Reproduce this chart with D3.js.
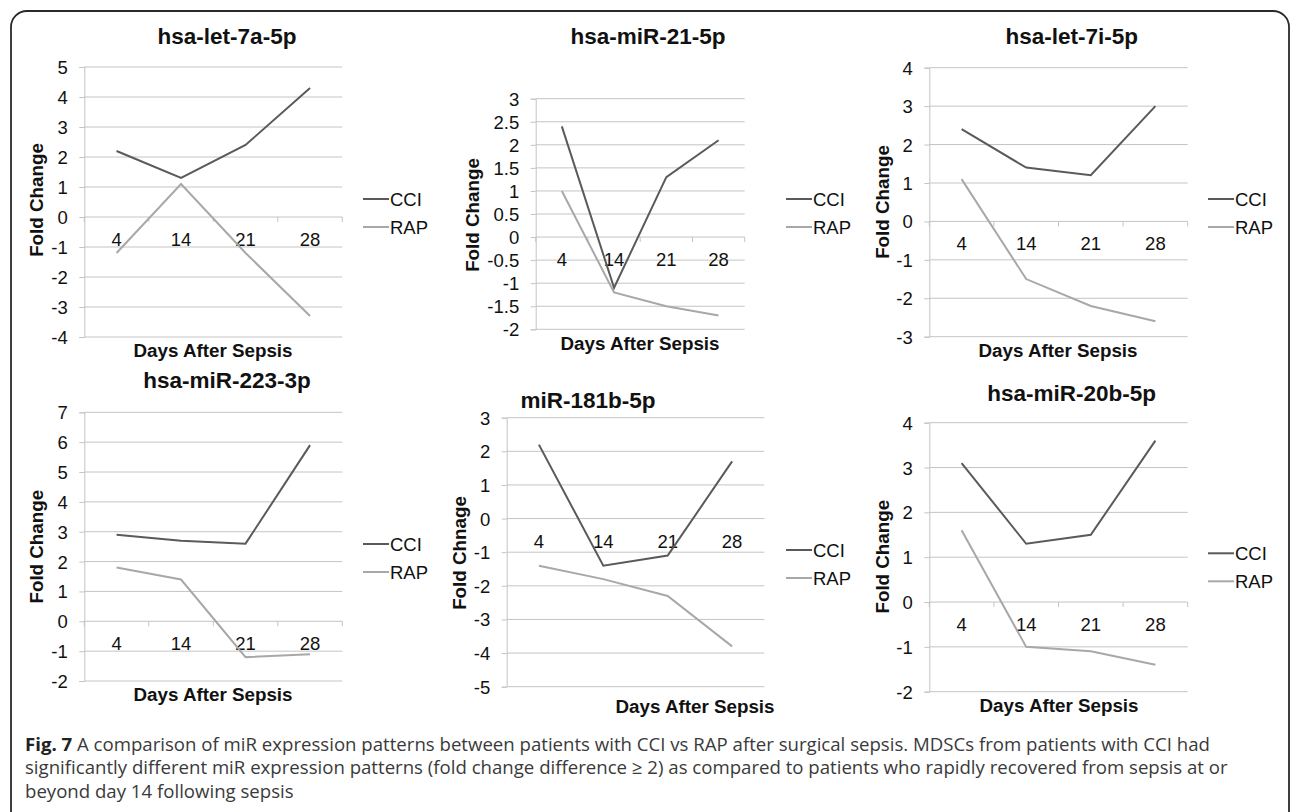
<!DOCTYPE html>
<html>
<head>
<meta charset="utf-8">
<script src="https://cdn.jsdelivr.net/npm/d3@7/dist/d3.min.js"></script>
<style>
  html, body { margin: 0; padding: 0; background: #fff; }
  svg { display: block; }
</style>
</head>
<body>
<svg id="chart" width="1292" height="812"></svg>
<script>
// ---------------- DATA ----------------
const days = ["4", "14", "21", "28"];
const seriesNames = ["CCI", "RAP"];

const titles = ["hsa-let-7a-5p", "hsa-miR-21-5p", "hsa-let-7i-5p",
                "hsa-miR-223-3p", "miR-181b-5p", "hsa-miR-20b-5p"];
const yTitles = ["Fold Change", "Fold Change", "Fold Change",
                 "Fold Change", "Fold Chnage", "Fold Change"];
const xTitle = "Days After Sepsis";

const let7a_CCI = [2.2, 1.3, 2.4, 4.3];
const let7a_RAP = [-1.2, 1.1, -1.2, -3.3];
const miR21_CCI = [2.4, -1.1, 1.3, 2.1];
const miR21_RAP = [1.0, -1.2, -1.5, -1.7];
const let7i_CCI = [2.4, 1.4, 1.2, 3.0];
const let7i_RAP = [1.1, -1.5, -2.2, -2.6];
const miR223_CCI = [2.9, 2.7, 2.6, 5.9];
const miR223_RAP = [1.8, 1.4, -1.2, -1.1];
const miR181b_CCI = [2.2, -1.4, -1.1, 1.7];
const miR181b_RAP = [-1.4, -1.8, -2.3, -3.8];
const miR20b_CCI = [3.1, 1.3, 1.5, 3.6];
const miR20b_RAP = [1.6, -1.0, -1.1, -1.4];

const let7aTicks = [5, 4, 3, 2, 1, 0, -1, -2, -3, -4];
const miR21Ticks = [3, 2.5, 2, 1.5, 1, 0.5, 0, -0.5, -1, -1.5, -2];
const let7iTicks = [4, 3, 2, 1, 0, -1, -2, -3];
const miR223Ticks = [7, 6, 5, 4, 3, 2, 1, 0, -1, -2];
const miR181bTicks = [3, 2, 1, 0, -1, -2, -3, -4, -5];
const miR20bTicks = [4, 3, 2, 1, 0, -1, -2];

const captionBold = "Fig. 7";
const captionLines = [
  " A comparison of miR expression patterns between patients with CCI vs RAP after surgical sepsis. MDSCs from patients with CCI had",
  "significantly different miR expression patterns (fold change difference \u2265 2) as compared to patients who rapidly recovered from sepsis at or",
  "beyond day 14 following sepsis"
];

// ---------------- LAYOUT ----------------
const panels = [
  { title: titles[0], yTitle: yTitles[0], cci: let7a_CCI, rap: let7a_RAP, ticks: let7aTicks,
    L: 84.3, R: 342.3, T: 67, B: 337, tx: 227, ty: 36, ytx: 36, yty: 200, xtx: 213, xty: 350,
    lx: 363, ly: 199, zeroTicks: true },
  { title: titles[1], yTitle: yTitles[1], cci: miR21_CCI, rap: miR21_RAP, ticks: miR21Ticks,
    L: 535.7, R: 744.7, T: 98.7, B: 329.3, tx: 648, ty: 36, ytx: 472.7, yty: 215, xtx: 640, xty: 343,
    lx: 786, ly: 199, zeroTicks: true },
  { title: titles[2], yTitle: yTitles[2], cci: let7i_CCI, rap: let7i_RAP, ticks: let7iTicks,
    L: 929.3, R: 1187.7, T: 67.7, B: 336.7, tx: 1071.7, ty: 36, ytx: 882.7, yty: 202, xtx: 1058, xty: 350,
    lx: 1208, ly: 199, zeroTicks: true },
  { title: titles[3], yTitle: yTitles[3], cci: miR223_CCI, rap: miR223_RAP, ticks: miR223Ticks,
    L: 84.3, R: 342.3, T: 412.3, B: 681, tx: 227, ty: 380, ytx: 36, yty: 546.7, xtx: 213, xty: 694,
    lx: 363, ly: 544, zeroTicks: true },
  { title: titles[4], yTitle: yTitles[4], cci: miR181b_CCI, rap: miR181b_RAP, ticks: miR181bTicks,
    L: 506.7, R: 764.3, T: 417.7, B: 686.7, tx: 588, ty: 400.7, ytx: 459.3, yty: 553, xtx: 695, xty: 706.7,
    lx: 786, ly: 550, zeroTicks: false },
  { title: titles[5], yTitle: yTitles[5], cci: miR20b_CCI, rap: miR20b_RAP, ticks: miR20bTicks,
    L: 929.3, R: 1187.7, T: 422.7, B: 691.7, tx: 1071.7, ty: 393.3, ytx: 882.7, yty: 556.7, xtx: 1059, xty: 705,
    lx: 1208, ly: 553.3, zeroTicks: true }
];

const COLORS = { CCI: "#5a5a5a", RAP: "#a8a8a8" };
const GRID = "#c4c4c4";
const FONT = "'Liberation Sans', Arial, sans-serif";
const TXT = "#111";
const TICK_FS = 18.5, TITLE_FS = 22.5, AXT_FS = 18.8, LEG_FS = 18.5;

const svg = d3.select("#chart");

// frame
svg.append("rect")
  .attr("x", 11).attr("y", 11)
  .attr("width", 1278).attr("height", 830)
  .attr("rx", 16).attr("ry", 16)
  .attr("fill", "none").attr("stroke", "#2a2a2a").attr("stroke-width", 1.8);

panels.forEach(p => {
  const g = svg.append("g");
  const minV = d3.min(p.ticks), maxV = d3.max(p.ticks);
  const y = d3.scaleLinear().domain([minV, maxV]).range([p.B, p.T]);
  const x = d3.scaleBand().domain(days).range([p.L, p.R]).paddingInner(0).paddingOuter(0);
  const cx = d => x(d) + x.bandwidth() / 2;

  // gridlines
  g.append("g").selectAll("line").data(p.ticks).join("line")
    .attr("x1", p.L).attr("x2", p.R)
    .attr("y1", d => y(d)).attr("y2", d => y(d))
    .attr("stroke", GRID).attr("stroke-width", 1);

  // y axis
  const ax = g.append("g")
    .attr("transform", `translate(${p.L},0)`)
    .call(d3.axisLeft(y).tickValues(p.ticks).tickSize(5).tickPadding(11.5)
      .tickFormat(d => String(d)));
  ax.select(".domain").attr("stroke", GRID);
  ax.selectAll(".tick line").attr("stroke", GRID);
  ax.selectAll(".tick text")
    .attr("font-family", FONT).attr("font-size", TICK_FS).attr("fill", TXT)
    .attr("dy", null).attr("dominant-baseline", "central");

  // category axis at zero
  const y0 = y(0);
  if (p.zeroTicks) {
    const bounds = days.map(d => x(d)).concat([p.R]);
    g.append("g").selectAll("line").data(bounds).join("line")
      .attr("x1", d => d).attr("x2", d => d)
      .attr("y1", y0).attr("y2", y0 + 5)
      .attr("stroke", GRID).attr("stroke-width", 1);
  }
  g.append("g").selectAll("text").data(days).join("text")
    .attr("x", d => cx(d)).attr("y", y0 + 22.5)
    .attr("text-anchor", "middle").attr("dominant-baseline", "central")
    .attr("font-family", FONT).attr("font-size", TICK_FS).attr("fill", TXT)
    .text(d => d);

  // lines
  const line = d3.line().x((v, i) => cx(days[i])).y(v => y(v));
  [["RAP", p.rap], ["CCI", p.cci]].forEach(([name, vals]) => {
    g.append("path").datum(vals)
      .attr("d", line).attr("fill", "none")
      .attr("stroke", COLORS[name]).attr("stroke-width", 2)
      .attr("stroke-linejoin", "miter");
  });

  // title
  g.append("text")
    .attr("x", p.tx).attr("y", p.ty)
    .attr("text-anchor", "middle").attr("dominant-baseline", "central")
    .attr("font-family", FONT).attr("font-weight", "bold").attr("font-size", TITLE_FS)
    .attr("fill", TXT).text(p.title);

  // y title
  g.append("text")
    .attr("transform", `translate(${p.ytx},${p.yty}) rotate(-90)`)
    .attr("text-anchor", "middle").attr("dominant-baseline", "central")
    .attr("font-family", FONT).attr("font-weight", "bold").attr("font-size", AXT_FS)
    .attr("fill", TXT).text(p.yTitle);

  // x title
  g.append("text")
    .attr("x", p.xtx).attr("y", p.xty)
    .attr("text-anchor", "middle").attr("dominant-baseline", "central")
    .attr("font-family", FONT).attr("font-weight", "bold").attr("font-size", AXT_FS)
    .attr("fill", TXT).text(xTitle);

  // legend
  seriesNames.forEach((name, i) => {
    const ly = p.ly + i * 28;
    g.append("line")
      .attr("x1", p.lx).attr("x2", p.lx + 26)
      .attr("y1", ly).attr("y2", ly)
      .attr("stroke", COLORS[name]).attr("stroke-width", 2);
    g.append("text")
      .attr("x", p.lx + 27).attr("y", ly)
      .attr("dominant-baseline", "central")
      .attr("font-family", FONT).attr("font-size", LEG_FS).attr("fill", TXT)
      .text(name);
  });
});

// caption
const CAP_FONT = "'Open Sans', 'Noto Sans', sans-serif";
const capY = [743, 766.5, 790];
const capTargetW = 1186;
const cap1 = svg.append("text")
  .attr("x", 25).attr("y", capY[0])
  .attr("dominant-baseline", "central")
  .attr("font-family", CAP_FONT).attr("font-size", 17).attr("fill", "#3a3a3a");
cap1.append("tspan").attr("font-weight", "bold").attr("fill", "#222").text(captionBold);
cap1.append("tspan").text(captionLines[0]);
const w1 = cap1.node().getComputedTextLength();
const capSize = 17 * capTargetW / w1;
cap1.attr("font-size", capSize);
captionLines.slice(1).forEach((t, i) => {
  svg.append("text")
    .attr("x", 25).attr("y", capY[i + 1])
    .attr("dominant-baseline", "central")
    .attr("font-family", CAP_FONT).attr("font-size", capSize).attr("fill", "#3a3a3a")
    .text(t);
});
</script>
</body>
</html>
